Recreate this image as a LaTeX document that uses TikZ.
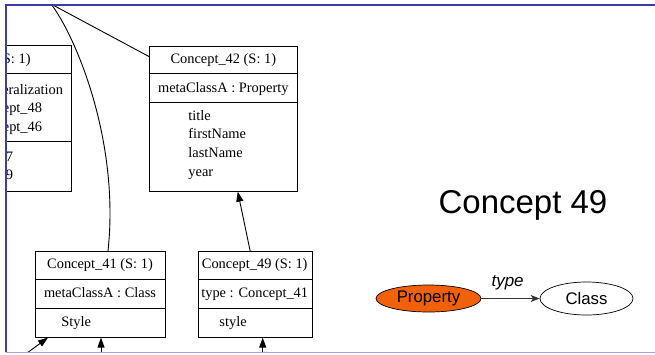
\documentclass[tikz,border=0pt]{standalone}
\usepackage{fontspec}
\setmainfont{Liberation Serif}
\newfontfamily\helv{Liberation Sans}
\usetikzlibrary{arrows.meta,shapes.geometric}

\definecolor{framedark}{RGB}{60,60,170}
\definecolor{framelight}{RGB}{165,165,225}
\definecolor{proporange}{RGB}{242,96,8}

\begin{document}
\begin{tikzpicture}[
x=1pt, y=-1pt,
line width=0.9pt,
font=\fontsize{14.4}{18}\selectfont,
cbox/.style={rectangle, draw, inner sep=0pt, anchor=north west},
txt/.style={inner sep=0pt, anchor=base},
attr/.style={inner sep=0pt, anchor=base west},
cut/.style={inner sep=0pt, anchor=base east},
rdf/.style={ellipse, draw, line width=0.7pt, inner sep=0pt, font=\helv\fontsize{16.8}{20}\selectfont},
link/.style={-{Triangle[length=10pt,width=7pt]}},
pred/.style={-{Stealth[length=9pt,width=7pt,inset=2.5pt]}, draw=black!80, line width=0.8pt}
]
\useasboundingbox (0,0) rectangle (655,354);

\begin{scope}
\clip (6.7,5.7) rectangle (655,351.3);

% concept boxes
\node[cbox, minimum width=100, minimum height=145.7] (cleft) at (-29.3,45) {};
\node[cbox, minimum width=148, minimum height=145] (c42) at (149.3,45.7) {};
\node[cbox, minimum width=130, minimum height=85.7] (c41) at (35,251) {};
\node[cbox, minimum width=114, minimum height=85.7] (c49) at (197.7,251) {};

% compartments
\draw (cleft.west |- 0,73.3) -- (cleft.east |- 0,73.3);
\draw (cleft.west |- 0,141.5) -- (cleft.east |- 0,141.5);
\draw (c42.west |- 0,73.3) -- (c42.east |- 0,73.3);
\draw (c42.west |- 0,102.3) -- (c42.east |- 0,102.3);
\draw (c41.west |- 0,279.5) -- (c41.east |- 0,279.5);
\draw (c41.west |- 0,308.3) -- (c41.east |- 0,308.3);
\draw (c49.west |- 0,279.5) -- (c49.east |- 0,279.5);
\draw (c49.west |- 0,308.3) -- (c49.east |- 0,308.3);

% texts of the cut box
\node[cut] (lt1) at (31,63) {S: 1)};
\node[cut] (lt2) at (63.5,94) {eralization};
\node[cut] (lt3) at (42.5,112.5) {ept\_48};
\node[cut] (lt4) at (42.5,131) {ept\_46};
\node[cut] (lt5) at (13.5,161) {7};
\node[cut] (lt6) at (13.5,179.5) {9};

% Concept_42
\node[txt] (c42a) at (223.3,63.5) {Concept\_42 (S: 1)};
\node[txt] (c42b) at (223.3,92) {metaClassA : Property};
\foreach \t [count=\i] in {title,firstName,lastName,year}
  \node[attr] (c42f\i) at (188,101.3+18.7*\i) {\t};

% Concept_41
\node[txt] (c41a) at (100,268.5) {Concept\_41 (S: 1)};
\node[txt] (c41b) at (100,297) {metaClassA : Class};
\node[attr] (c41c) at (61,326) {Style};

% Concept_49
\node[txt] (c49a) at (254.7,268.5) {Concept\_49 (S: 1)};
\node[txt] (c49b) at (254.7,297) {type : Concept\_41};
\node[attr] (c49c) at (219,326) {style};

% edges
\coordinate (src) at (51,4);
\coordinate (b1) at (27,353);
\coordinate (b2) at (101,353);
\coordinate (b3) at (262.7,353);
\draw (src) -- ([yshift=-11pt]c42.north west);
\draw (src) .. controls (75,35) and (120,140) .. ([xshift=73pt]c41.north west);
\draw[link] ([xshift=-5pt]c49.north) -- ([xshift=14pt]c42.south);
\draw[link] (b1) -- ([xshift=13pt]c41.south west);
\draw[link] (b2) -- ([xshift=66pt]c41.south west);
\draw[link] (b3) -- ([xshift=65pt]c49.south west);
\end{scope}

% frame
\draw[framedark, line width=1.6pt] (6,352) -- (6,4.8) -- (655,4.8);
\draw[framelight, line width=1.4pt] (6,352.3) -- (655,352.3);

% preview
\node[font=\helv\fontsize{33}{40}\selectfont] (title) at (523,205) {Concept 49};
\node[rdf, fill=proporange, minimum width=105, minimum height=27] (prop) at (428.5,298.5) {Property};
\node[rdf, minimum width=93, minimum height=33] (cls) at (586.5,298.5) {Class};
\draw[pred] (prop) -- node[above=8.5pt, pos=0.45, inner sep=0pt, font=\helv\itshape\fontsize{17}{20}\selectfont] {type} (cls);

\end{tikzpicture}
\end{document}
